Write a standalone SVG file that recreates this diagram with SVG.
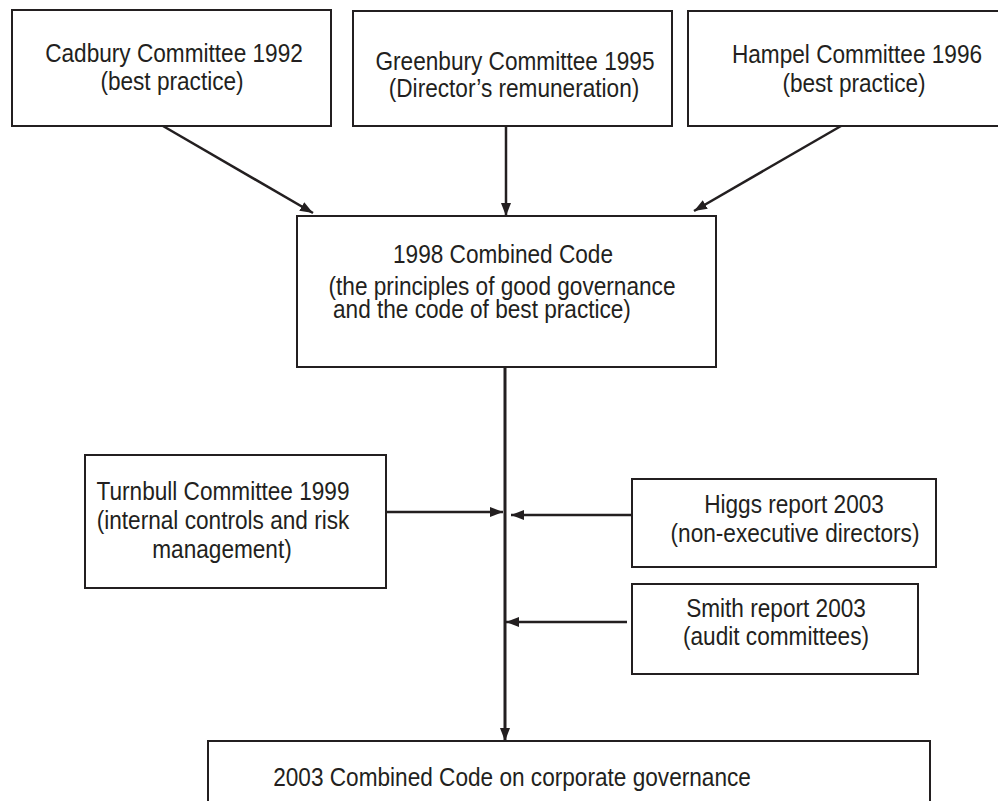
<svg xmlns="http://www.w3.org/2000/svg" width="998" height="801" viewBox="0 0 998 801">
  <style>
    .box { fill: #ffffff; stroke: #231f20; stroke-width: 2; }
    .t { font-family: "Liberation Sans", Arial, sans-serif; font-size: 26px; fill: #231f20; }
    .c { text-anchor: middle; }
    .conn { stroke: #231f20; stroke-width: 2.5; fill: none; }
    .trunk { stroke: #231f20; stroke-width: 3; fill: none; }
  </style>
  <defs>
    <marker id="arrow" viewBox="0 0 13 10" refX="13" refY="5" markerWidth="13" markerHeight="11" orient="auto" markerUnits="userSpaceOnUse">
      <path d="M0,0 L13,5 L0,10 Z" fill="#231f20"/>
    </marker>
  </defs>
  <rect width="998" height="801" fill="#ffffff"/>

  <!-- connectors -->
  <g id="connectors">
    <line class="conn" x1="163" y1="126" x2="313" y2="213" marker-end="url(#arrow)"/>
    <line class="conn" x1="506" y1="126" x2="506" y2="216" marker-end="url(#arrow)"/>
    <line class="conn" x1="841" y1="126" x2="694" y2="211" marker-end="url(#arrow)"/>
    <line class="trunk" x1="505" y1="367" x2="505" y2="741" marker-end="url(#arrow)"/>
    <line class="conn" x1="386" y1="512" x2="503" y2="512" marker-end="url(#arrow)"/>
    <line class="conn" x1="632" y1="515" x2="511" y2="515" marker-end="url(#arrow)"/>
    <line class="conn" x1="627" y1="622" x2="506" y2="622" marker-end="url(#arrow)"/>
  </g>

  <g id="cadbury">
    <rect class="box" x="12" y="10" width="319" height="116"/>
    <text class="t c" transform="translate(174,62) scale(0.87,1)">Cadbury Committee 1992</text>
    <text class="t c" transform="translate(172,90) scale(0.87,1)">(best practice)</text>
  </g>

  <g id="greenbury">
    <rect class="box" x="353" y="11" width="319" height="115"/>
    <text class="t c" transform="translate(515,70) scale(0.87,1)">Greenbury Committee 1995</text>
    <text class="t c" transform="translate(514,97) scale(0.87,1)">(Director’s remuneration)</text>
  </g>

  <g id="hampel">
    <rect class="box" x="688" y="11" width="330" height="115"/>
    <text class="t c" transform="translate(857,63) scale(0.87,1)">Hampel Committee 1996</text>
    <text class="t c" transform="translate(854,92) scale(0.87,1)">(best practice)</text>
  </g>

  <g id="combined1998">
    <rect class="box" x="297" y="216" width="419" height="151"/>
    <text class="t c" transform="translate(503,263) scale(0.87,1)">1998 Combined Code</text>
    <text class="t c" transform="translate(502,295) scale(0.87,1)">(the principles of good governance</text>
    <text class="t" transform="translate(333,318) scale(0.87,1)">and the code of best practice)</text>
  </g>

  <g id="turnbull">
    <rect class="box" x="85" y="455" width="301" height="133"/>
    <text class="t c" transform="translate(223,500) scale(0.87,1)">Turnbull Committee 1999</text>
    <text class="t c" transform="translate(223,529) scale(0.87,1)">(internal controls and risk</text>
    <text class="t c" transform="translate(222,558) scale(0.87,1)">management)</text>
  </g>

  <g id="higgs">
    <rect class="box" x="632" y="479" width="304" height="88"/>
    <text class="t c" transform="translate(794,513) scale(0.87,1)">Higgs report 2003</text>
    <text class="t c" transform="translate(795,542) scale(0.87,1)">(non-executive directors)</text>
  </g>

  <g id="smith">
    <rect class="box" x="632" y="584" width="286" height="90"/>
    <text class="t c" transform="translate(776,617) scale(0.87,1)">Smith report 2003</text>
    <text class="t c" transform="translate(776,645) scale(0.87,1)">(audit committees)</text>
  </g>

  <g id="combined2003">
    <rect class="box" x="208" y="741" width="722" height="80"/>
    <text class="t c" transform="translate(512,786) scale(0.87,1)">2003 Combined Code on corporate governance</text>
  </g>
</svg>
